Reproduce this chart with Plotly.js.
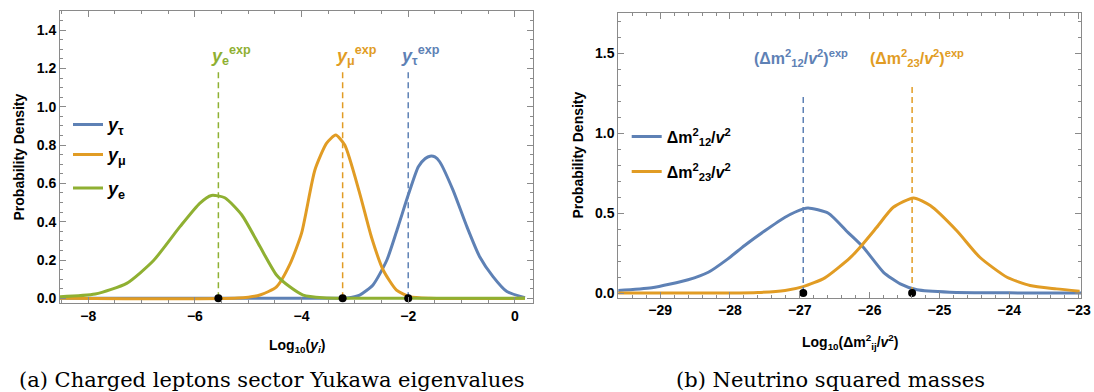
<!DOCTYPE html>
<html>
<head>
<meta charset="utf-8">
<script src="https://cdn.plot.ly/plotly-3.0.1.min.js"></script>
<style>html,body{margin:0;padding:0;background:#fff;}#chart{width:1094px;height:392px;}</style>
</head>
<body>
<div id="chart"></div>
<script>
// ---------- Data: (a) charged leptons, Log10(y_i) ----------
const tauX = [-8.53, -4.5, -3.5, -3.15, -2.91, -2.66, -2.4, -2.19, -2.0, -1.81, -1.68, -1.59, -1.5, -1.41, -1.16, -0.9, -0.66, -0.41, -0.15, 0.19];
const tauY = [0, 0, 0, 0.002, 0.017, 0.07, 0.2, 0.374, 0.539, 0.687, 0.73, 0.742, 0.738, 0.713, 0.565, 0.374, 0.217, 0.113, 0.035, 0.003];
const muX  = [-8.53, -5.2, -4.78, -4.47, -4.22, -4.0, -3.75, -3.53, -3.36, -3.19, -2.91, -2.69, -2.47, -2.22, -1.97, -1.6, 0.19];
const muY  = [0, 0.001, 0.017, 0.06, 0.177, 0.34, 0.67, 0.81, 0.852, 0.80, 0.548, 0.32, 0.148, 0.043, 0.008, 0, 0];
const eX   = [-8.53, -7.87, -7.28, -6.78, -6.28, -5.91, -5.69, -5.44, -5.12, -4.78, -4.47, -4.22, -3.97, -3.6, -3.0, 0.19];
const eY   = [0.008, 0.022, 0.078, 0.196, 0.374, 0.496, 0.537, 0.525, 0.435, 0.27, 0.122, 0.06, 0.017, 0.003, 0, 0];
const leptonNames = ["<i>y</i><sub>τ</sub>", "<i>y</i><sub>μ</sub>", "<i>y</i><sub>e</sub>"];
const leptonExpX = [-2.0, -3.23, -5.56];
const leptonExpTop = [1.2, 1.2, 1.2];
const leptonExpLabels = ["<i>y</i><sub>τ</sub><sup>exp</sup>", "<i>y</i><sub>μ</sub><sup>exp</sup>", "<i>y</i><sub>e</sub><sup>exp</sup>"];

// ---------- Data: (b) neutrino squared masses, Log10(Δm²/v²) ----------
const d12X = [-29.61, -29.12, -28.6, -28.31, -28.03, -27.79, -27.5, -27.21, -26.95, -26.88, -26.59, -26.31, -26.09, -25.8, -25.56, -25.32, -24.85, -24.0, -22.97];
const d12Y = [0.016, 0.033, 0.083, 0.13, 0.214, 0.298, 0.39, 0.475, 0.527, 0.533, 0.50, 0.38, 0.287, 0.13, 0.057, 0.02, 0.005, 0.001, 0];
const d23X = [-29.61, -28.0, -27.6, -27.21, -26.95, -26.64, -26.28, -26.11, -25.9, -25.66, -25.37, -25.13, -24.75, -24.42, -24.03, -23.7, -23.32, -22.99];
const d23Y = [0, 0, 0.003, 0.016, 0.04, 0.095, 0.22, 0.3, 0.41, 0.537, 0.596, 0.548, 0.39, 0.224, 0.099, 0.047, 0.026, 0.011];
const nuNames = ["Δm<sup>2</sup><sub>12</sub>/<i>v</i><sup>2</sup>", "Δm<sup>2</sup><sub>23</sub>/<i>v</i><sup>2</sup>"];
const nuExpX = [-26.95, -25.39];
const nuExpTop = [1.228, 1.29];
const nuExpLabels = ["(Δm<sup>2</sup><sub>12</sub>/<i>v</i><sup>2</sup>)<sup>exp</sup>", "(Δm<sup>2</sup><sub>23</sub>/<i>v</i><sup>2</sup>)<sup>exp</sup>"];

const captions = ["(a) Charged leptons sector Yukawa eigenvalues", "(b) Neutrino squared masses"];

// ---------- Styling ----------
const BLUE = "#5E81B5", ORANGE = "#E19C24", GREEN = "#8FB032";
const FRAME = "#8a8a8a";
const W = 1094, H = 392;
const px = v => v / W, py = v => 1 - v / H;
const sans = "Liberation Sans, Arial, sans-serif";

function curve(x, y, color, name, xa, ya, legend) {
  return {x, y, type: "scatter", mode: "lines", name, xaxis: xa, yaxis: ya,
          line: {color, width: 3, shape: "spline", smoothing: 0.6}, legend, showlegend: true};
}
function dashed(x, top, color, xa, ya) {
  return {x: [x, x], y: [0, top], type: "scatter", mode: "lines", xaxis: xa, yaxis: ya,
          line: {color, width: 1.5, dash: "6px,4px"}, showlegend: false, hoverinfo: "skip"};
}

const leptonColors = [BLUE, ORANGE, GREEN];
const nuColors = [BLUE, ORANGE];

const data = [
  curve(tauX, tauY, BLUE, leptonNames[0], "x", "y", "legend"),
  curve(muX, muY, ORANGE, leptonNames[1], "x", "y", "legend2"),
  curve(eX, eY, GREEN, leptonNames[2], "x", "y", "legend3"),
  curve(d12X, d12Y, BLUE, nuNames[0], "x2", "y2", "legend4"),
  curve(d23X, d23Y, ORANGE, nuNames[1], "x2", "y2", "legend5")
];
leptonExpX.forEach((x, i) => data.push(dashed(x, leptonExpTop[i], leptonColors[i], "x", "y")));
nuExpX.forEach((x, i) => data.push(dashed(x, nuExpTop[i], nuColors[i], "x2", "y2")));
data.push({x: leptonExpX, y: leptonExpX.map(() => 0), type: "scatter", mode: "markers", xaxis: "x", yaxis: "y",
           marker: {color: "#000", size: 8}, showlegend: false, hoverinfo: "skip"});
data.push({x: nuExpX, y: nuExpX.map(() => 0), type: "scatter", mode: "markers", xaxis: "x2", yaxis: "y2",
           marker: {color: "#000", size: 8}, showlegend: false, hoverinfo: "skip"});

function axis(extra) {
  return Object.assign({
    showline: true, linecolor: FRAME, linewidth: 1, mirror: "ticks",
    ticks: "inside", ticklen: 6, tickcolor: FRAME, tickwidth: 1,
    showgrid: false, zeroline: false,
    tickfont: {family: sans, size: 14, color: "#000", weight: "bold"}
  }, extra);
}

function legendAt(x, y, size) {
  return {x: px(x), y: py(y), xanchor: "left", yanchor: "middle", bgcolor: "rgba(0,0,0,0)",
          borderwidth: 0, font: {family: sans, size, color: "#000", weight: "bold"}, itemwidth: 30};
}

const annotations = [];
// exp labels
leptonExpX.forEach((x, i) => annotations.push({
  x, y: 1.27, xref: "x", yref: "y", text: leptonExpLabels[i], showarrow: false,
  xanchor: "left", yanchor: "middle", xshift: -9,
  font: {family: sans, size: 18, color: leptonColors[i], weight: "bold"}
}));
const nuLabelShift = [-51, -44];
nuExpX.forEach((x, i) => annotations.push({
  x, y: 1.47, xref: "x2", yref: "y2", text: nuExpLabels[i], showarrow: false,
  xanchor: "left", yanchor: "middle", xshift: nuLabelShift[i],
  font: {family: sans, size: 16, color: nuColors[i], weight: "bold"}
}));
// axis titles
const titleFont = {family: sans, size: 14, color: "#000", weight: "bold"};
annotations.push({x: px(18.5), y: py(157), xref: "paper", yref: "paper", text: "Probability Density",
  textangle: -90, showarrow: false, xanchor: "center", yanchor: "middle", font: titleFont});
annotations.push({x: px(577.5), y: py(155), xref: "paper", yref: "paper", text: "Probability Density",
  textangle: -90, showarrow: false, xanchor: "center", yanchor: "middle", font: titleFont});
annotations.push({x: px(296.5), y: py(346), xref: "paper", yref: "paper",
  text: "Log<sub>10</sub>(<i>y<sub>i</sub></i>)", showarrow: false, xanchor: "center", yanchor: "middle", font: titleFont});
annotations.push({x: px(849.5), y: py(342), xref: "paper", yref: "paper",
  text: "Log<sub>10</sub>(Δm<sup>2</sup><sub>ij</sub>/<i>v</i><sup>2</sup>)", showarrow: false, xanchor: "center", yanchor: "middle", font: titleFont});
// captions
const capFont = {family: "DejaVu Serif, serif", size: 21, color: "#000"};
annotations.push({x: px(271), y: py(380), xref: "paper", yref: "paper", text: captions[0],
  showarrow: false, xanchor: "center", yanchor: "middle", font: capFont});
annotations.push({x: px(830), y: py(380), xref: "paper", yref: "paper", text: captions[1],
  showarrow: false, xanchor: "center", yanchor: "middle", font: capFont});

const layout = {
  width: W, height: H,
  margin: {l: 0, r: 0, t: 0, b: 0},
  paper_bgcolor: "#fff", plot_bgcolor: "#fff",
  showlegend: true,
  xaxis: axis({domain: [px(60), px(533)], anchor: "y", range: [-8.53, 0.34], dtick: 2, tick0: 0,
    minor: {ticks: "inside", ticklen: 3, dtick: 0.5, tick0: 0, tickcolor: FRAME, showgrid: false}}),
  yaxis: axis({domain: [py(303), py(11)], anchor: "x", range: [-0.0245, 1.5], dtick: 0.2, tick0: 0, tickformat: ".1f",
    minor: {ticks: "inside", ticklen: 3, dtick: 0.05, tick0: 0, tickcolor: FRAME, showgrid: false}}),
  xaxis2: axis({domain: [px(618.3), px(1081)], anchor: "y2", range: [-29.6, -22.97], dtick: 1, tick0: 0,
    minor: {ticks: "inside", ticklen: 3, dtick: 0.2, tick0: 0, tickcolor: FRAME, showgrid: false}}),
  yaxis2: axis({domain: [py(297.5), py(12.7)], anchor: "x2", range: [-0.028, 1.756], dtick: 0.5, tick0: 0, tickformat: ".1f",
    minor: {ticks: "inside", ticklen: 3, dtick: 0.1, tick0: 0, tickcolor: FRAME, showgrid: false}}),
  legend: legendAt(68, 124.7, 18),
  legend2: legendAt(68, 154.7, 18),
  legend3: legendAt(68, 188.3, 18),
  legend4: legendAt(626.7, 136.7, 16),
  legend5: legendAt(626.7, 171.7, 16),
  annotations
};

Plotly.newPlot("chart", data, layout, {staticPlot: true, displayModeBar: false});
</script>
</body>
</html>
